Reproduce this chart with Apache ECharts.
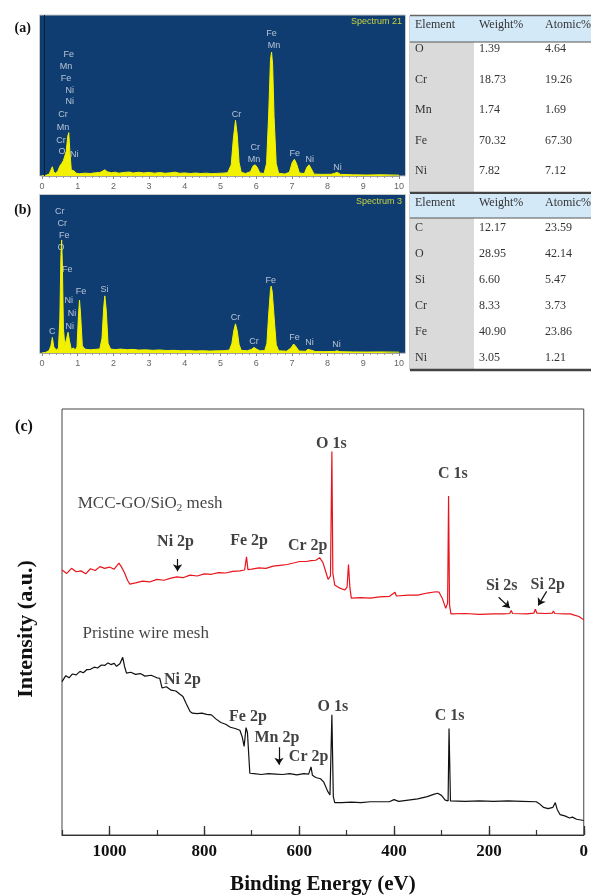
<!DOCTYPE html>
<html lang="en">
<head>
    <meta charset="UTF-8">
    <title>EDS and XPS</title>
    <script src="https://cdn.jsdelivr.net/npm/echarts@6/dist/echarts.min.js"></script>
    <style>
        body { margin: 0; background: #fff; }
    </style>
</head>
<body>
    <div id="main" style="width:591px;height:896px;"></div>

    <script>
        // EDS spectrum (a): [keV, counts]
        const specA = [
            [0.00,0],[0.10,0.5],[0.20,1.5],[0.25,3],[0.29,7.5],[0.33,3],[0.39,2.2],[0.45,4.5],[0.50,8],[0.55,10],[0.60,12.5],[0.64,14],[0.68,20],
            [0.72,32],[0.75,35],[0.78,20],[0.82,5],[0.86,6.5],[0.90,4],[0.96,2.2],[1.05,1.8],[1.20,2.3],[1.35,2.0],[1.50,2.6],[1.62,2.8],
            [1.70,4],[1.76,5],[1.83,3.4],[1.95,2.6],[2.05,3.1],[2.15,2.3],[2.30,2.9],[2.45,3.2],[2.55,2.4],[2.70,3.0],[2.85,2.5],[3.00,2.9],
            [3.15,2.3],[3.30,2.8],[3.45,2.2],[3.60,2.6],[3.72,3.1],[3.85,2.2],[4.00,2.5],[4.15,2.0],[4.30,2.4],[4.45,2.0],[4.60,2.3],[4.75,1.9],
            [4.90,2.1],[5.05,2.3],[5.20,2.6],[5.30,9],[5.36,30],[5.42,45],[5.47,33],[5.52,11],[5.58,3],[5.70,2.0],[5.84,3.5],[5.91,8],
            [5.97,9],[6.03,7],[6.10,2.5],[6.22,2.0],[6.29,10],[6.35,50],[6.40,94],[6.43,100],[6.46,90],[6.50,48],[6.56,10],[6.63,2.2],
            [6.80,1.6],[6.93,3],[7.01,11],[7.07,13.5],[7.13,10],[7.21,2.4],[7.35,2.0],[7.42,7],[7.48,9],[7.54,6],[7.62,1.5],[7.85,1.3],
            [8.10,1.4],[8.20,2.2],[8.27,3],[8.36,1.3],[8.70,1.0],[9.10,0.8],[9.50,1.0],[10.00,0.7]
        ];
        const labelsA = [
            [0.75,98,'Fe'],[0.67,88.7,'Mn'],[0.67,79,'Fe'],[0.78,69,'Ni'],[0.78,60,'Ni'],[0.59,50,'Cr'],[0.59,39.5,'Mn'],
            [0.53,29,'Cr'],[0.56,19.4,'O'],[0.90,17.7,'Ni'],[5.45,50,'Cr'],[5.97,23.4,'Cr'],[5.94,13.7,'Mn'],[6.43,115,'Fe'],
            [6.50,105.6,'Mn'],[7.08,18.5,'Fe'],[7.50,13.7,'Ni'],[8.28,6.5,'Ni']
        ];

        // EDS spectrum (b)
        const specB = [
            [0.00,0],[0.10,0.5],[0.20,2],[0.25,6],[0.29,12.8],[0.33,5],[0.40,2.5],[0.46,4],[0.50,28],[0.53,80],[0.55,93],[0.57,74],
            [0.60,20],[0.64,6],[0.69,12],[0.73,17],[0.77,10],[0.82,3],[0.88,4.2],[0.93,2.5],[0.98,5],[1.02,30],[1.05,43.6],[1.08,32],
            [1.13,6],[1.20,3.2],[1.35,2.6],[1.50,3.0],[1.62,3.3],[1.68,12],[1.73,38],[1.76,47],[1.80,35],[1.85,8],[1.92,3.2],[2.05,2.8],
            [2.20,3.2],[2.40,2.7],[2.55,3.0],[2.70,2.4],[2.90,2.6],[3.10,2.2],[3.30,2.5],[3.50,2.0],[3.70,2.2],[3.90,1.8],[4.10,2.0],
            [4.30,1.7],[4.50,1.9],[4.70,1.6],[4.90,1.8],[5.10,1.9],[5.25,2.4],[5.32,8],[5.37,18],[5.42,24],[5.47,18],[5.52,7],[5.58,2.2],
            [5.75,1.8],[5.87,3],[5.94,4.6],[6.01,3.2],[6.10,1.8],[6.24,2.0],[6.30,8],[6.35,32],[6.40,52],[6.42,55],[6.45,50],[6.50,30],
            [6.56,7],[6.63,1.8],[6.85,1.5],[6.97,4],[7.05,7.4],[7.12,5],[7.20,1.6],[7.38,1.4],[7.45,3],[7.49,3.3],[7.55,2.2],[7.65,1.2],
            [7.90,1.1],[8.20,1.3],[8.26,1.8],[8.35,1.1],[8.70,0.9],[9.10,0.8],[9.50,0.9],[10.00,0.7]
        ];
        const labelsB = [
            [0.50,116.5,'Cr'],[0.57,106.6,'Cr'],[0.62,96.7,'Fe'],[0.53,86.8,'O'],[0.71,69,'Fe'],[0.75,43,'Ni'],[0.84,32.5,'Ni'],
            [0.78,21.8,'Ni'],[0.29,17.7,'C'],[1.09,50.7,'Fe'],[1.75,52.1,'Si'],[5.42,28.8,'Cr'],[5.94,9.6,'Cr'],[6.41,59.7,'Fe'],
            [7.07,13,'Fe'],[7.49,8.8,'Ni'],[8.25,6.6,'Ni']
        ];

        // tables
        const tableHead = ['Element', 'Weight%', 'Atomic%'];
        const tableA = [['O','1.39','4.64'],['Cr','18.73','19.26'],['Mn','1.74','1.69'],['Fe','70.32','67.30'],['Ni','7.82','7.12']];
        const tableB = [['C','12.17','23.59'],['O','28.95','42.14'],['Si','6.60','5.47'],['Cr','8.33','3.73'],['Fe','40.90','23.86'],['Ni','3.05','1.21']];

        // XPS survey (c): [binding energy eV, intensity]
        const xpsMcc = [
            [1100,62.2],[1090,61.4],[1080,62.6],[1070,61.8],[1060,62.0],[1050,61.3],[1040,62.5],[1030,62.1],[1020,63.0],[1010,62.6],
            [1000,62.9],[990,62.4],[980,63.8],[975,63.0],[968,61.5],[962,59.8],[957,58.9],[945,59.2],[930,59.6],[915,59.4],[900,60.0],
            [885,59.8],[870,60.3],[858,60.6],[845,60.4],[830,61.0],[815,60.8],[800,61.3],[785,61.2],[770,61.6],[755,61.5],[740,61.9],
            [725,62.0],[715,62.2],[711,65.3],[708,62.3],[700,62.4],[685,62.7],[670,62.6],[655,63.1],[640,63.3],[625,63.5],[610,63.9],
            [599,64.2],[585,64.2],[575,64.4],[565,64.5],[557,65.1],[550,64.0],[545,62.2],[539,60.0],[534,60.8],[531,90.0],[529,61.5],
            [525,58.7],[515,58.0],[504,57.5],[499,58.2],[496,63.5],[493,58.0],[490,55.6],[470,55.7],[450,55.6],[430,55.9],[410,56.0],
            [398,57.0],[395,56.1],[370,56.3],[350,56.3],[330,56.8],[312,57.1],[305,57.0],[298,55.5],[291,53.2],[287,54.5],[285,79.6],
            [283,54.0],[280,51.9],[250,52.0],[220,51.8],[190,51.9],[170,51.9],[156,52.0],[153,52.7],[150,52.0],[120,51.9],[105,52.1],
            [102,53.0],[99,52.1],[80,52.0],[66,52.1],[64,52.6],[61,52.0],[40,51.9],[28,51.9],[26,52.3],[20,51.6],[10,51.3],[0,50.5]
        ];
        const xpsPristine = [
            [1100,36.0],[1092,37.4],[1085,36.9],[1078,37.8],[1070,37.6],[1062,38.4],[1055,38.1],[1048,38.8],[1040,38.9],[1032,39.4],
            [1025,39.2],[1017,39.9],[1010,39.8],[1003,40.4],[997,40.0],[990,40.3],[985,39.6],[978,40.2],[972,41.7],[968,39.5],[964,38.0],
            [955,38.2],[945,37.7],[935,37.9],[925,37.3],[912,37.5],[900,36.9],[894,36.8],[889,34.5],[880,34.8],[870,34.0],[860,33.8],
            [852,33.1],[845,32.5],[838,30.8],[830,29.0],[825,28.6],[815,28.5],[805,28.6],[795,28.3],[785,28.2],[775,27.2],[765,26.4],
            [755,26.0],[745,25.3],[735,25.0],[725,24.6],[720,23.0],[716,20.8],[712,25.2],[709,24.0],[704,14.5],[695,14.4],[680,14.2],
            [665,14.4],[650,14.3],[635,14.2],[620,14.4],[605,14.1],[590,14.4],[580,14.3],[575,16.0],[572,14.0],[565,13.5],[555,13.2],
            [548,12.4],[540,10.3],[535,9.4],[531,28.2],[528,9.0],[525,7.6],[510,7.6],[490,7.7],[470,7.6],[450,7.8],[430,7.8],[410,7.8],
            [400,8.3],[390,7.9],[370,8.2],[350,8.5],[330,9.0],[315,9.6],[308,9.8],[300,9.3],[292,8.2],[286,8.0],[284,25.0],[281,8.0],
            [277,7.8],[250,7.9],[220,8.0],[190,7.9],[160,8.0],[130,7.9],[100,7.8],[92,7.2],[85,6.5],[75,6.2],[65,6.5],[60,7.6],[56,6.0],
            [50,4.8],[40,4.5],[30,4.0],[24,4.2],[15,3.7],[0,3.4]
        ];
        const peakNames = [
            [860.6,68.9,'Ni 2p'],[705.7,69.1,'Fe 2p'],[582,67.9,'Cr 2p'],[532,91.9,'O 1s'],[276,84.7,'C 1s'],[173,58.5,'Si 2s'],[76,58.7,'Si 2p'],
            [846,36.4,'Ni 2p'],[708,27.8,'Fe 2p'],[647,22.8,'Mn 2p'],[580,18.4,'Cr 2p'],[529,30,'O 1s'],[283,28,'C 1s']
        ];
        const sampleNames = [[1068,77.9,'{n|MCC-GO/SiO}{s|2}{n| mesh}'],[1058,47.2,'{n|Pristine wire mesh}']];
        // arrows: [from, to]
        const arrows = [
            [[856.4,64.8],[856.4,61.9]],
            [[642.5,20.6],[642.5,16.5]],
            [[179.4,55.8],[156.0,53.3]],
            [[78.3,57.2],[96.0,53.9]]
        ];

        const serif = '"Liberation Serif", "Times New Roman", serif';
        const sans = '"Liberation Sans", Arial, sans-serif';

        function tableGraphics(rows, top, headBottom, rowY0, rowStep, bottom, topLine) {
            const g = [];
            g.push({type:'rect', shape:{x:410, y:top, width:181, height:headBottom-top}, style:{fill:'#d3e9f8'}});
            g.push({type:'rect', shape:{x:410, y:headBottom, width:64, height:bottom-headBottom}, style:{fill:'#dadada'}});
            if (topLine) {
                g.push({type:'line', shape:{x1:410, y1:top, x2:591, y2:top}, style:{stroke:'#666', lineWidth:1.5}});
            }
            g.push({type:'line', shape:{x1:410, y1:headBottom, x2:591, y2:headBottom}, style:{stroke:'#555', lineWidth:1}});
            g.push({type:'line', shape:{x1:410, y1:bottom, x2:591, y2:bottom}, style:{stroke:'#444', lineWidth:2.5}});
            g.push({type:'line', shape:{x1:409.5, y1:top, x2:409.5, y2:bottom}, style:{stroke:'#d0d0d0', lineWidth:1}});
            const colX = [415, 479, 545];
            tableHead.forEach(function (h, j) {
                g.push({type:'text', style:{text:h, x:colX[j], y:top+9, fill:'#333', font:'12px ' + serif, verticalAlign:'middle', textVerticalAlign:'middle'}});
            });
            rows.forEach(function (r, i) {
                r.forEach(function (c, j) {
                    g.push({type:'text', style:{text:c, x:colX[j], y:rowY0 + i*rowStep, fill:'#333', font:'12px ' + serif, verticalAlign:'middle', textVerticalAlign:'middle'}});
                });
            });
            return g;
        }

        function centerText(text, x, y, font, fill) {
            return {type:'text', style:{text:text, x:x, y:y, fill:fill, font:font, align:'center', textAlign:'center', verticalAlign:'middle', textVerticalAlign:'middle'}};
        }

        const yTitle = centerText('Intensity (a.u.)', 0, 0, 'bold 22px ' + serif, '#111');
        yTitle.x = 26;
        yTitle.y = 629;
        yTitle.rotation = Math.PI / 2;

        const graphics = [
            // EDS plot backgrounds
            {type:'rect', shape:{x:39.5, y:15, width:366, height:161}, style:{fill:'#0f3d71', stroke:'#c8c8c8', lineWidth:1}, z:-10},
            {type:'rect', shape:{x:39.5, y:194.5, width:366, height:158.8}, style:{fill:'#0f3d71', stroke:'#c8c8c8', lineWidth:1}, z:-10},
            {type:'text', style:{text:'Spectrum 21', x:402, y:22, fill:'#c9d43e', font:'9px ' + sans, align:'right', textAlign:'right', verticalAlign:'middle', textVerticalAlign:'middle'}},
            {type:'text', style:{text:'Spectrum 3', x:402, y:201.5, fill:'#c9d43e', font:'9px ' + sans, align:'right', textAlign:'right', verticalAlign:'middle', textVerticalAlign:'middle'}},
            centerText('(a)', 22.7, 28.5, 'bold 14px ' + serif, '#111'),
            centerText('(b)', 22.7, 210, 'bold 14px ' + serif, '#111'),
            centerText('(c)', 24, 426.5, 'bold 16px ' + serif, '#111'),
            yTitle
        ].concat(
            tableGraphics(tableA, 15.5, 42, 49.3, 30.35, 193, true),
            tableGraphics(tableB, 194, 218, 227.7, 26, 370, false)
        );

        function edsX(grid) {
            return {
                gridIndex: grid, type: 'value', min: 0, max: 10, interval: 1,
                axisLine: { lineStyle: { color: '#a0a0a0' } },
                axisTick: { length: 3, lineStyle: { color: '#888' } },
                minorTick: { show: true, splitNumber: 5, length: 2, lineStyle: { color: '#999' } },
                axisLabel: { color: '#666', fontSize: 9, margin: 6, fontFamily: sans },
                splitLine: { show: false }
            };
        }
        function edsY(grid) {
            return { gridIndex: grid, type: 'value', min: 0, max: 130, show: false };
        }
        function edsLabels(grid, data) {
            return {
                type: 'scatter', xAxisIndex: grid, yAxisIndex: grid, data: data, symbolSize: 1, silent: true,
                itemStyle: { color: 'rgba(0,0,0,0)' },
                label: { show: true, position: 'inside', formatter: function (p) { return p.data[2]; },
                         color: '#dbe2eb', fontSize: 9, fontFamily: sans }
            };
        }
        function edsSpec(grid, data) {
            return {
                type: 'line', xAxisIndex: grid, yAxisIndex: grid, data: data, symbol: 'none', silent: true,
                lineStyle: { color: '#f2f200', width: 1 },
                areaStyle: { color: '#f2f200', opacity: 1 }
            };
        }

        const specSeriesA = edsSpec(0, specA);
        specSeriesA.markLine = { silent: true, symbol: 'none', label: { show: false },
            lineStyle: { color: '#07203d', width: 1, type: 'solid' }, data: [{ xAxis: 0.06 }] };

        const option = {
            animation: false,
            graphic: graphics,
            grid: [
                { left: 42, top: 15, width: 357, height: 161 },
                { left: 42, top: 195, width: 357, height: 158 },
                { left: 62, top: 409, width: 523, height: 426, show: true, borderColor: '#444', borderWidth: 1 }
            ],
            xAxis: [
                edsX(0),
                edsX(1),
                {
                    gridIndex: 2, type: 'value', min: 0, max: 1100, interval: 200, inverse: true, position: 'bottom',
                    axisLine: { lineStyle: { color: '#333', width: 1.2 } },
                    axisTick: { inside: true, length: 9, lineStyle: { color: '#333', width: 1.3 } },
                    axisLabel: { showMaxLabel: false, color: '#111', fontSize: 17, fontWeight: 'bold', fontFamily: serif, margin: 8,
                                 formatter: function (v) { return String(v); } },
                    splitLine: { show: false },
                    name: 'Binding Energy (eV)', nameLocation: 'middle', nameGap: 39,
                    nameTextStyle: { color: '#111', fontSize: 21, fontWeight: 'bold', fontFamily: serif }
                },
                {
                    gridIndex: 2, type: 'value', min: 0, max: 1100, interval: 100, inverse: true, position: 'bottom',
                    axisLine: { show: false },
                    axisTick: { inside: true, length: 5, lineStyle: { color: '#333', width: 1.2 } },
                    axisLabel: { show: false },
                    splitLine: { show: false }
                }
            ],
            yAxis: [
                edsY(0),
                edsY(1),
                {
                    gridIndex: 2, type: 'value', min: 0, max: 100, show: false
                }
            ],
            series: [
                specSeriesA,
                edsLabels(0, labelsA),
                edsSpec(1, specB),
                edsLabels(1, labelsB),
                {
                    type: 'line', xAxisIndex: 2, yAxisIndex: 2, data: xpsMcc, symbol: 'none', silent: true,
                    lineStyle: { color: '#e8141c', width: 1.2 }
                },
                {
                    type: 'line', xAxisIndex: 2, yAxisIndex: 2, data: xpsPristine, symbol: 'none', silent: true,
                    lineStyle: { color: '#111', width: 1.2 }
                },
                {
                    type: 'scatter', xAxisIndex: 2, yAxisIndex: 2, data: peakNames, symbolSize: 1, silent: true,
                    itemStyle: { color: 'rgba(0,0,0,0)' },
                    label: { show: true, position: 'inside', formatter: function (p) { return p.data[2]; },
                             color: '#111', fontSize: 16, fontWeight: 'bold', fontFamily: serif },
                    markLine: {
                        silent: true, symbol: ['none', 'arrow'], symbolSize: 7, label: { show: false },
                        lineStyle: { color: '#111', width: 1.2, type: 'solid' },
                        data: arrows.map(function (a) { return [{ coord: a[0] }, { coord: a[1] }]; })
                    }
                },
                {
                    type: 'scatter', xAxisIndex: 2, yAxisIndex: 2, data: sampleNames, symbolSize: 1, silent: true,
                    itemStyle: { color: 'rgba(0,0,0,0)' },
                    label: { show: true, position: 'right', distance: 0, formatter: function (p) { return p.data[2]; },
                             rich: {
                                 n: { color: '#111', fontSize: 17, fontFamily: serif, lineHeight: 20 },
                                 s: { color: '#111', fontSize: 11, fontFamily: serif, lineHeight: 20, padding: [9, 0, 0, 0] }
                             } }
                }
            ]
        };

        var myChart = echarts.init(document.getElementById('main'));
        myChart.setOption(option);
    </script>
</body>
</html>
